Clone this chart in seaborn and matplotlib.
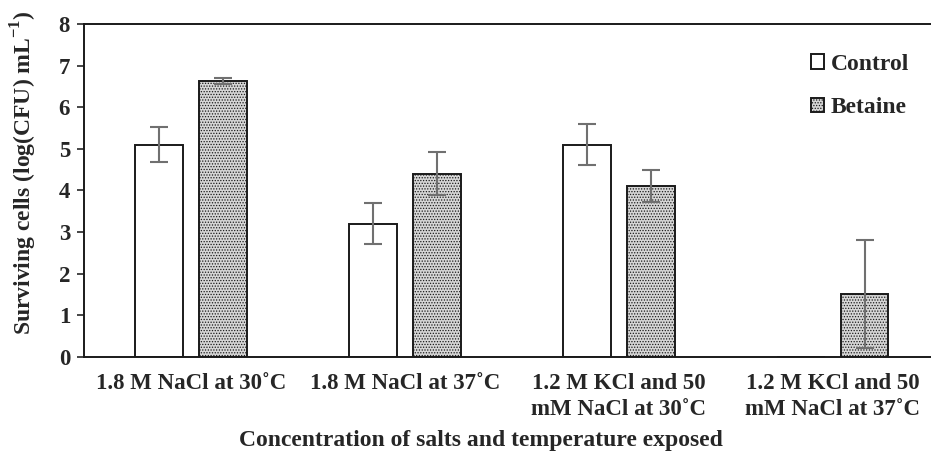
import matplotlib
matplotlib.use("Agg")
import matplotlib.pyplot as plt
import seaborn as sns
import pandas as pd
import numpy as np

categories = ["1.8 M NaCl at 30\u02daC", "1.8 M NaCl at 37\u02daC",
              "1.2 M KCl and 50\nmM NaCl at 30\u02daC", "1.2 M KCl and 50\nmM NaCl at 37\u02daC"]
treatments = ["Control", "Betaine"]
control_vals = [5.1, 3.2, 5.1, 0.0]
control_err = [0.42, 0.5, 0.5, 0.0]
betaine_vals = [6.62, 4.4, 4.1, 1.5]
betaine_err = [0.07, 0.51, 0.39, 1.3]

sns.set_style("ticks")
plt.rcParams['font.family'] = ['Liberation Serif', 'DejaVu Serif']
plt.rcParams['font.weight'] = 'bold'
plt.rcParams['mathtext.fontset'] = 'custom'
plt.rcParams['mathtext.rm'] = 'Liberation Serif:bold'
plt.rcParams['mathtext.bf'] = 'Liberation Serif:bold'
plt.rcParams['hatch.color'] = '#9a9a9a'
plt.rcParams['hatch.linewidth'] = 0.6

df = pd.DataFrame({
    "cat": categories * 2,
    "trt": [treatments[0]] * 4 + [treatments[1]] * 4,
    "val": control_vals + betaine_vals,
    "err": control_err + betaine_err,
})

fig = plt.figure(figsize=(9.31, 4.54), dpi=100)
ax = fig.add_axes([0.0902, 0.2143, 0.9194, 0.7330])

sns.barplot(data=df, x="cat", y="val", hue="trt", order=categories, hue_order=treatments,
            palette=["white", "#d6d6d6"], width=0.59, gap=0.24, errorbar=None,
            edgecolor="#1a1a1a", linewidth=1.4, legend=False, ax=ax)

bar_containers = list(ax.containers)
for bar in bar_containers[1]:
    bar.set_hatch("......")

errs = [control_err, betaine_err]
for i, cont in enumerate(bar_containers):
    for bar, e in zip(cont, errs[i]):
        if e > 0:
            cx = bar.get_x() + bar.get_width() / 2
            ax.errorbar(cx, bar.get_height(), yerr=e, color="#707070", capsize=6.5,
                        elinewidth=1.5, capthick=1.5, zorder=5)

ax.set_ylim(0, 8)
ax.set_xlim(-0.5, 3.5)
ax.set_yticks(range(0, 9))
ax.set_xticks(range(len(categories)), labels=categories, linespacing=1.32,
              fontweight='bold', fontsize=16.5)
ax.tick_params(axis='y', labelsize=16.5, length=5, width=1.2, direction='out', pad=5)
ax.tick_params(axis='x', length=0, pad=12)
for lab in ax.get_yticklabels():
    lab.set_fontweight('bold')

ax.set_ylabel(r"Surviving cells (log(CFU) mL$^{\mathbf{-1}}$)", fontsize=17, fontweight='bold')
ax.yaxis.set_label_coords(-0.052, 0.552)
ax.set_xlabel("Concentration of salts and temperature exposed", fontsize=17, fontweight='bold')
ax.xaxis.set_label_coords(0.464, -0.22)

for side in ["left", "bottom", "top"]:
    ax.spines[side].set_visible(True)
    ax.spines[side].set_linewidth(1.4)
    ax.spines[side].set_color("#1a1a1a")
ax.spines["right"].set_visible(False)

handles = [bar_containers[0][0], bar_containers[1][0]]
leg = ax.legend(handles, treatments, loc="upper left", bbox_to_anchor=(0.849, 0.91),
                frameon=False, handlelength=0.55, handleheight=0.55, borderpad=0,
                borderaxespad=0, labelspacing=0.94, handletextpad=0.3,
                prop={'weight': 'bold', 'size': 17})

fig.savefig("out.png", dpi=100)
